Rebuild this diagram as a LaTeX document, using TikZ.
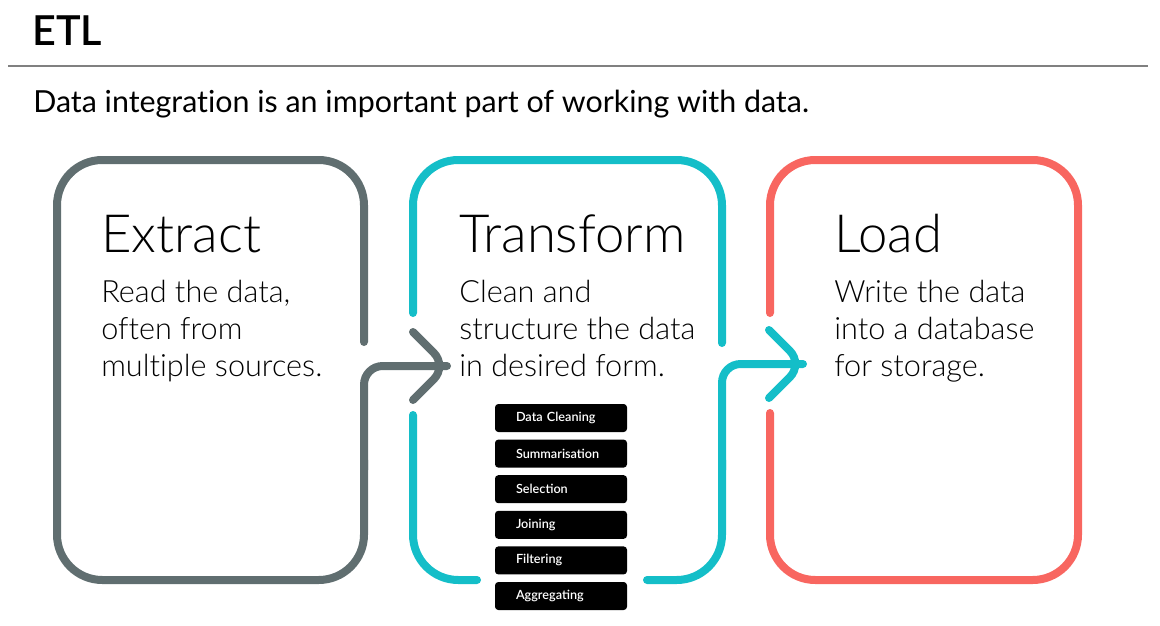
\documentclass[tikz,border=0pt]{standalone}
\usepackage{fontspec}
\setmainfont{Lato}[Ligatures=NoCommon]
\IfFontExistsTF{Lato Light}{\newfontfamily\lightfont{Lato Light}[Ligatures=NoCommon]}{\newfontfamily\lightfont{Lato}[Ligatures=NoCommon]}
\IfFontExistsTF{Lato Semibold}{\newfontfamily\semifont{Lato Semibold}}{\newfontfamily\semifont{Lato}[UprightFont=*, BoldFont=*]}
\definecolor{etlgray}{RGB}{96,110,112}
\definecolor{etlcyan}{RGB}{20,190,200}
\definecolor{etlred}{RGB}{248,102,96}
\tikzset{
  frame/.style={line width=6pt, line cap=round, line join=round, rounded corners=34pt},
  turn/.style={line width=6pt, line cap=round, line join=round, rounded corners=14pt},
  head/.style={anchor=base west, inner sep=0pt, font=\lightfont\fontsize{39.5}{44}\selectfont},
  body/.style={anchor=base west, inner sep=0pt, align=left, font=\lightfont\fontsize{23}{27.4}\selectfont},
  opbox/.style={fill=black, text=white, rounded corners=2.5pt, minimum height=21pt,
    text width=67.5pt, inner xsep=15.75pt, inner ysep=0pt, align=left,
    font=\semifont\fontsize{9.5}{11}\selectfont}
}
\begin{document}
\begin{tikzpicture}[x={0.75pt}, y={-0.75pt}]
  \useasboundingbox (0,0) rectangle (1160,625);
  \node[anchor=base west, inner sep=0pt, font=\semifont\fontsize{31}{36}\selectfont] (etl) at (32,45) {ETL};
  \draw[gray, line width=1.1pt] (8,66) -- (1148,66);
  \node[anchor=base west, inner sep=0pt, font=\fontsize{22.8}{26}\selectfont] (intro) at (33,112)
    {Data integration is an important part of working with data.};

  \draw[etlgray, frame] (364,342) -- (364,160) -- (57,160) -- (57,580) -- (364,580) -- (364,460);
  \draw[etlgray, turn] (364,470) -- (364,366) -- (447,366);
  \draw[etlgray, turn] (413,332) -- (447,366) -- (413,400);

  \draw[etlcyan, frame] (413,313) -- (413,160) -- (722,160) -- (722,343);
  \draw[etlcyan, frame] (413,415) -- (413,580) -- (477,580);
  \draw[etlcyan, frame] (647,580) -- (722,580) -- (722,460);
  \draw[etlcyan, turn] (722,470) -- (722,364) -- (803,364);
  \draw[etlcyan, turn] (769,330) -- (803,364) -- (769,398);

  \draw[etlred, frame] (770,313) -- (770,160) -- (1078,160) -- (1078,580) -- (770,580) -- (770,413);

  \node[head] (ext) at (101,252) {Extract};
  \node[body] (extText) at (101,376) {Read the data,\\often from\\multiple sources.};
  \node[head] (trf) at (459,252) {Transform};
  \node[body] (trfText) at (459,376) {Clean and\\structure the data\\in desired form.};
  \node[head] (lod) at (834,252) {Load};
  \node[body] (lodText) at (834,376) {Write the data\\into a database\\for storage.};

  \foreach \t [count=\i] in {Data Cleaning, Summarisation, Selection, Joining, Filtering, Aggregating} {
    \node[opbox] (op\i) at (561,{418+35.6*(\i-1)}) {\t};
  }
\end{tikzpicture}
\end{document}
